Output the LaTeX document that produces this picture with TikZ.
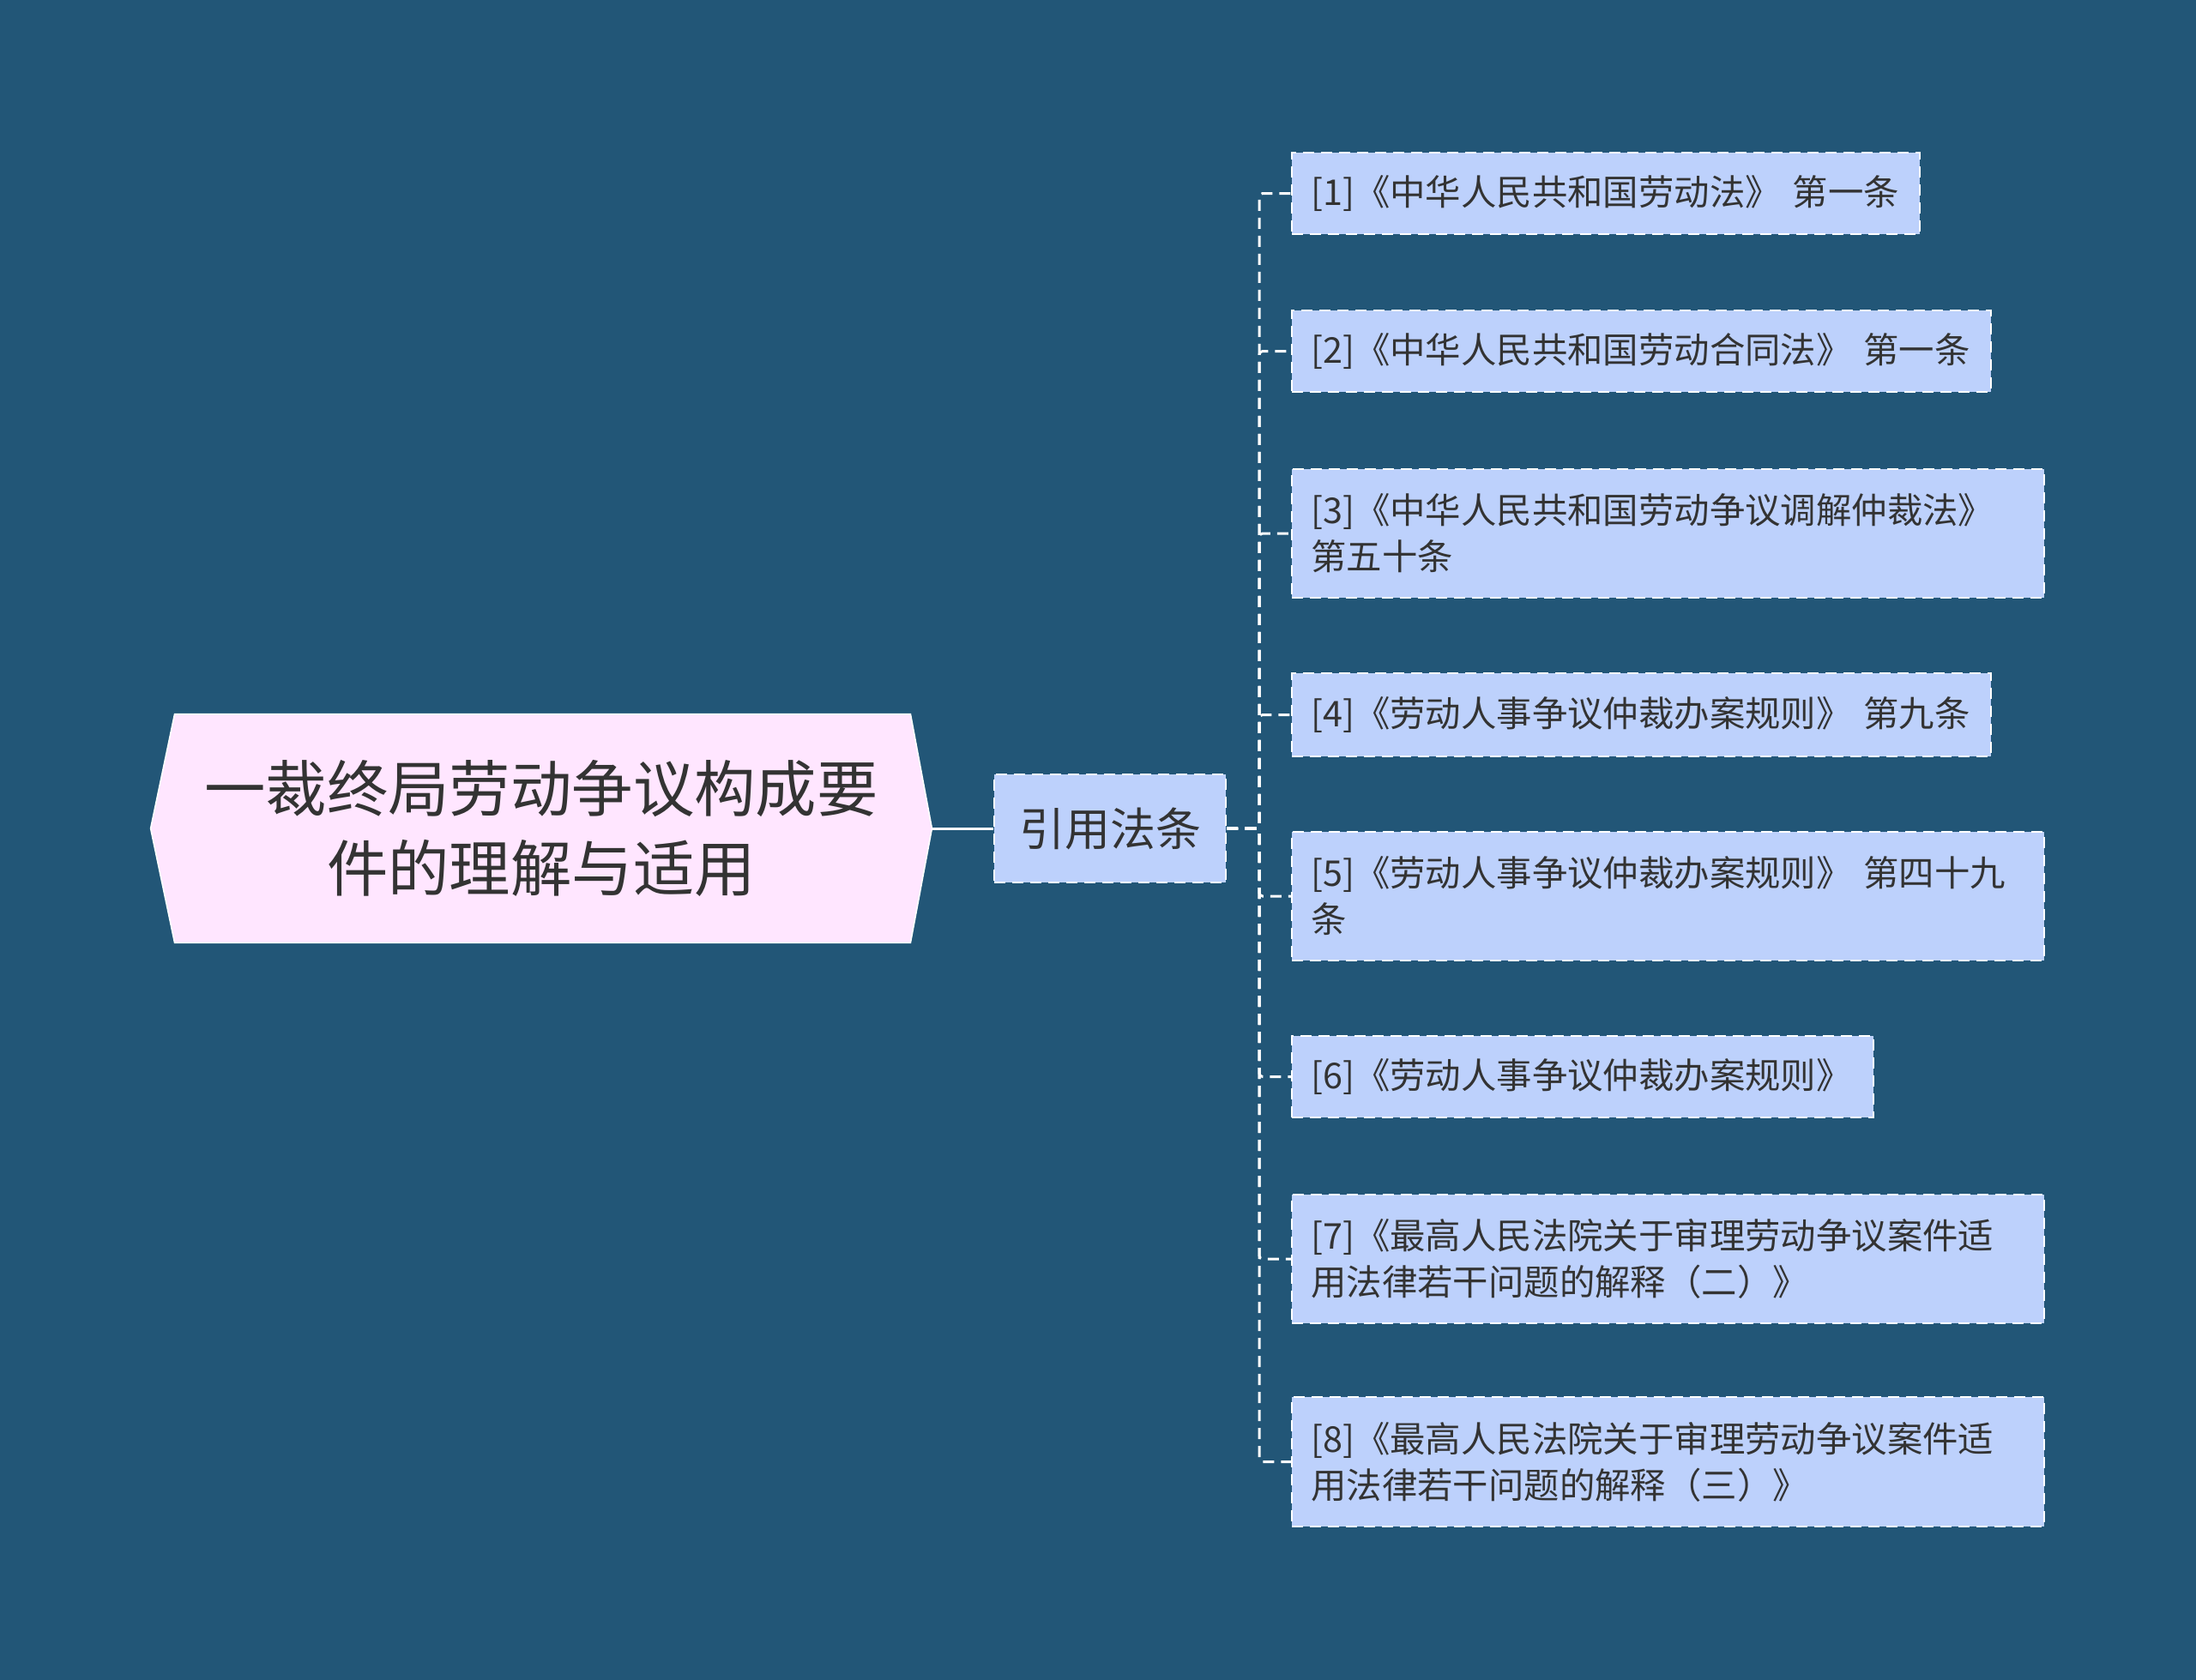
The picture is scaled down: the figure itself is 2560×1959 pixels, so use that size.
\documentclass[tikz,border=0pt]{standalone}
\usepackage{fontspec}
\newfontfamily\cjk{Noto Sans CJK SC}
\usetikzlibrary{backgrounds}
\definecolor{bg}{HTML}{225677}
\definecolor{leaffill}{HTML}{BDD1FC}
\definecolor{rootfill}{HTML}{FFE6FF}
\definecolor{txt}{HTML}{333333}
\begin{document}
\begin{tikzpicture}[x=0.5pt,y=-0.5pt,
  dashbox/.style={draw=white, line width=1.2pt, dash pattern=on 6.5pt off 4pt, fill=leaffill, text=txt},
  leafbox/.style={dashbox, font=\cjk\fontsize{20.7}{27}\selectfont, align=left, inner xsep=11pt, inner ysep=0pt, anchor=west},
  midbox/.style={dashbox, font=\cjk\fontsize{26.5}{32}\selectfont, align=center, inner sep=0pt, minimum width=135pt, minimum height=63pt},
  rootbox/.style={text=txt, font=\cjk\fontsize{35.7}{46.5}\selectfont, align=center, inner sep=0pt, minimum width=455pt, minimum height=133pt},
  conn/.style={draw=white, line width=1.5pt, dash pattern=on 6.5pt off 4pt, rounded corners=2pt},
  mainconn/.style={draw=white, line width=1.5pt}
]
\useasboundingbox (0,0) rectangle (2560,1959);

% root
\node[rootbox] (root) at (631,966) {一裁终局劳动争议构成要\\件的理解与适用};
\begin{scope}[on background layer]
\fill[bg] (0,0) rectangle (2560,1959);
\filldraw[fill=rootfill, draw=white, line width=0.8pt]
  (root.west) -- ([xshift=14pt]root.north west) -- ([xshift=-12.5pt]root.north east)
  -- (root.east) -- ([xshift=-12.5pt]root.south east) -- ([xshift=14pt]root.south west) -- cycle;
\end{scope}

% middle
\node[midbox] (mid) at (1294,966) {引用法条};

% leaves
\node[leafbox, minimum width=366pt, minimum height=47.5pt, text width=344pt] (l1) at (1505,225.5) {[1]《中华人民共和国劳动法》~第一条};
\node[leafbox, minimum width=407.5pt, minimum height=47.5pt, text width=385.5pt] (l2) at (1505,409.5) {[2]《中华人民共和国劳动合同法》~第一条};
\node[leafbox, minimum width=438.5pt, minimum height=75pt, text width=416.5pt] (l3) at (1505,622) {[3]《中华人民共和国劳动争议调解仲裁法》\\第五十条};
\node[leafbox, minimum width=407.5pt, minimum height=48.5pt, text width=385.5pt] (l4) at (1505,833.5) {[4]《劳动人事争议仲裁办案规则》~第九条};
\node[leafbox, minimum width=438.5pt, minimum height=75pt, text width=416.5pt] (l5) at (1505,1045) {[5]《劳动人事争议仲裁办案规则》~第四十九\\条};
\node[leafbox, minimum width=339pt, minimum height=47.5pt, text width=317pt] (l6) at (1505,1255.5) {[6]《劳动人事争议仲裁办案规则》};
\node[leafbox, minimum width=438.5pt, minimum height=75pt, text width=416.5pt] (l7) at (1505,1468) {[7]《最高人民法院关于审理劳动争议案件适\\用法律若干问题的解释（二）》};
\node[leafbox, minimum width=438.5pt, minimum height=75.5pt, text width=416.5pt] (l8) at (1505,1704.5) {[8]《最高人民法院关于审理劳动争议案件适\\用法律若干问题的解释（三）》};

% connectors
\draw[mainconn] (root.east) -- (mid.west);
\coordinate (bus) at (1468,966);
\foreach \n in {l1,l2,l3,l4,l5,l6,l7,l8}{
  \draw[conn] (mid.east) -- (bus) |- (\n.west);
}
\end{tikzpicture}
\end{document}
